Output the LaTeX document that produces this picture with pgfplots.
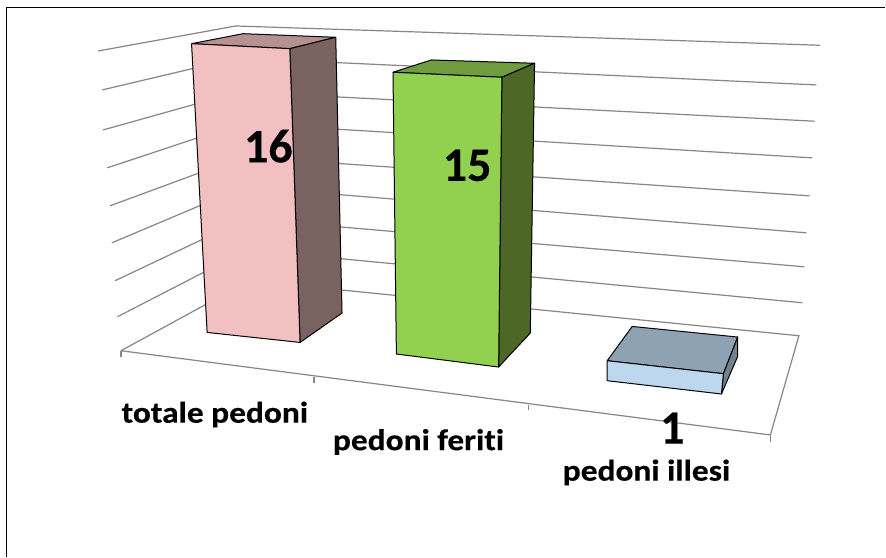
\documentclass[border=0pt]{standalone}
\usepackage{fontspec}
\setmainfont{Carlito}[Ligatures=NoCommon, BoldFeatures={FakeBold=0.35}]
\usepackage{pgfplots}
\pgfplotsset{compat=1.18}
\definecolor{gridc}{HTML}{868686}
\definecolor{pinkF}{HTML}{F2C0C0}
\definecolor{pinkS}{HTML}{7A6260}
\definecolor{pinkT}{HTML}{B59290}
\definecolor{greenF}{HTML}{92D050}
\definecolor{greenS}{HTML}{4C6726}
\definecolor{greenT}{HTML}{6F9C3C}
\definecolor{blueF}{HTML}{BDD7EE}
\definecolor{blueS}{HTML}{70828F}
\definecolor{blueT}{HTML}{8EA2B3}
\tikzset{
  vallab/.style={anchor=base west, inner sep=0pt, font=\bfseries\fontsize{48}{48}\selectfont},
  catlab/.style={anchor=base west, inner sep=0pt, xscale=1.115, font=\bfseries\fontsize{30}{30}\selectfont},
}
\begin{document}
\begin{tikzpicture}
\begin{axis}[
  width=886pt, height=557pt, scale only axis,
  xmin=0, xmax=886, ymin=0, ymax=557, y dir=reverse,
  axis lines=none, clip=false,
  every axis plot/.append style={no markers},
  grid3/.style={draw=gridc, line width=1.2pt},
  bar3/.style={draw=black, line width=1pt, line join=round},
]
% page
\addplot[draw=none, fill=white, forget plot] coordinates {(0,0)(886,0)(886,557)(0,557)(0,0)};
\addplot[draw=black, line width=1.4pt] coordinates {(6.8,557)(6.8,7.4)(886,7.4)};
% walls: left end, back corner, right end per gridline
\addplot[grid3] coordinates {(117.5,317)(247.6,250)(803,303)};
\addplot[grid3] coordinates {(115,281)(246,219)(805,267)};
\addplot[grid3] coordinates {(112,243)(244.5,187)(807,233)};
\addplot[grid3] coordinates {(110,206)(243,157)(810,196)};
\addplot[grid3] coordinates {(107.3,168)(241,123.5)(813,158)};
\addplot[grid3] coordinates {(103.3,130)(239,92)(815.3,121.3)};
\addplot[grid3] coordinates {(102.3,90)(237.6,58)(817,85)};
\addplot[grid3] coordinates {(98.3,51)(236,26)(820.7,45.3)};
% floor
\addplot[grid3] coordinates {(121,351)(249.4,281)(799.5,336)(771,435.3)(121,351)};
% ticks
\addplot[grid3] coordinates {(121,351)(121,357.5)};
\addplot[grid3] coordinates {(314.3,377)(314.3,383)};
\addplot[grid3] coordinates {(528.7,405)(528.7,410.5)};
\addplot[grid3] coordinates {(771,435.3)(771,442)};
% bar 1 (16)
\addplot[bar3, fill=pinkT] coordinates {(191.7,43.7)(243.3,33.7)(336,37.3)(290,48.7)(191.7,43.7)};
\addplot[bar3, fill=pinkS] coordinates {(290,48.7)(336,37.3)(342.3,313.3)(300.3,342.7)(290,48.7)};
\addplot[bar3, fill=pinkF] coordinates {(191.7,43.7)(290,48.7)(300.3,342.7)(207.3,332.7)(191.7,43.7)};
% bar 2 (15)
\addplot[bar3, fill=greenT] coordinates {(393.3,72.3)(431.7,60)(535,63.3)(502.3,77.3)(393.3,72.3)};
\addplot[bar3, fill=greenS] coordinates {(502.3,77.3)(535,63.3)(530.7,333.3)(499,367.3)(502.3,77.3)};
\addplot[bar3, fill=greenF] coordinates {(393.3,72.3)(502.3,77.3)(499,367.3)(396.7,354.3)(393.3,72.3)};
% bar 3 (1)
\addplot[bar3, fill=blueT] coordinates {(607.7,361)(632.7,326.7)(738.3,337.3)(724,374)(607.7,361)};
\addplot[bar3, fill=blueS] coordinates {(724,374)(738.3,337.3)(738.3,356.7)(722,394.3)(724,374)};
\addplot[bar3, fill=blueF] coordinates {(607.7,361)(724,374)(722,394.3)(607.7,381)(607.7,361)};
% labels
\node[vallab] at (axis cs:244,162.5) {16};
\node[vallab] at (axis cs:443,181) {15};
\node[vallab] at (axis cs:660.5,444) {1};
\node[catlab] at (axis cs:121.5,423) {totale pedoni};
\node[catlab] at (axis cs:333,450.5) {pedoni feriti};
\node[catlab] at (axis cs:563,481) {pedoni illesi};
\end{axis}
\end{tikzpicture}
\end{document}
